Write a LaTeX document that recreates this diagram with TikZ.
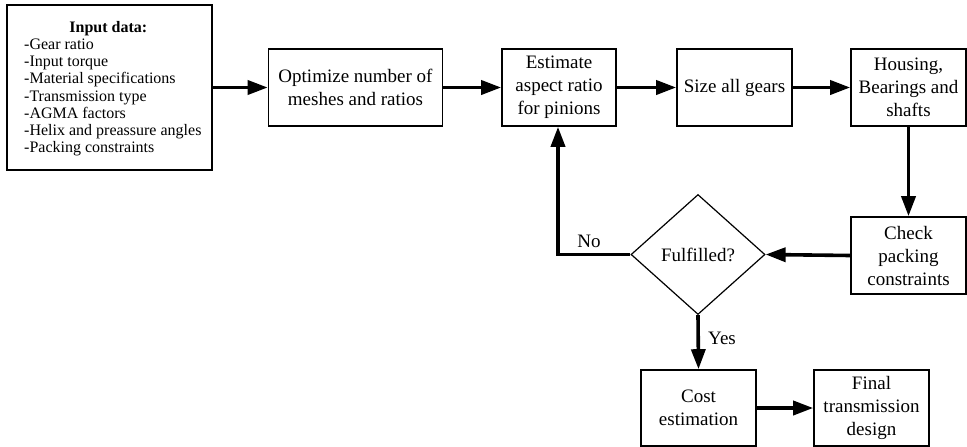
\documentclass[tikz,border=0pt]{standalone}
\usepackage{fontspec}
\setmainfont{Liberation Serif}
\usetikzlibrary{arrows.meta,shapes.geometric}
\begin{document}
\begin{tikzpicture}[x=1pt,y=-1pt,
  box/.style={draw,line width=1.6pt,rectangle,inner sep=0pt,minimum height=77pt,align=center,font=\fontsize{19}{23}\selectfont},
  flow/.style={line width=3.6pt,-{Triangle[length=20pt,width=14pt]}},
  lbl/.style={font=\fontsize{19}{23}\selectfont,inner sep=0pt}]
\useasboundingbox (0,0) rectangle (967,447);
\node[draw,line width=1.6pt,rectangle,inner sep=0pt,minimum width=205pt,minimum height=165pt] (input) at (109.5,87.5) {};
\node[inner sep=0pt,font=\fontsize{16}{17.2}\selectfont,anchor=north west] (inputtxt) at (24,20) {%
\begin{tabular}{@{}l@{}}
\multicolumn{1}{@{}c@{}}{\hspace*{-9pt}\bfseries Input data:}\\
-Gear ratio\\
-Input torque\\
-Material specifications\\
-Transmission type\\
-AGMA factors\\
-Helix and preassure angles\\
-Packing constraints
\end{tabular}};
\node[box,minimum width=174pt] (opt) at (355.5,87.5) {Optimize number of\\meshes and ratios};
\node[box,minimum width=114pt] (est) at (559,87.5) {Estimate\\aspect ratio\\for pinions};
\node[box,minimum width=115pt] (size) at (734.5,87.5) {Size all gears};
\node[box,minimum width=115pt] (house) at (908.5,87.5) {Housing,\\Bearings and\\shafts};
\node[box,minimum width=115pt] (check) at (908.5,255.5) {Check\\packing\\constraints};
\node[draw,line width=1.2pt,diamond,aspect=1.12,minimum width=134pt,minimum height=120pt,inner sep=0pt,font=\fontsize{19}{23}\selectfont] (ful) at (698,254.5) {Fulfilled?};
\node[box,minimum width=115pt,minimum height=76pt] (cost) at (698.5,408) {Cost\\estimation};
\node[box,minimum width=115pt,minimum height=76pt] (final) at (871.5,408) {Final\\transmission\\design};
\coordinate (corner) at (558,254.5);
\draw[flow] (input.east |- 0,87.5) -- (opt.west);
\draw[flow] (opt) -- (est);
\draw[flow] (est) -- (size);
\draw[flow] (size) -- (house);
\draw[flow] (house) -- (check);
\draw[flow] (check.west) -- (ful.east);
\draw[flow] (ful.west) -- (corner) -- (est.south -| corner);
\draw[flow] (ful.south) -- (cost.north);
\draw[flow] (cost) -- (final);
\node[lbl] (no) at (589,241) {No};
\node[lbl] (yes) at (722,338) {Yes};
\end{tikzpicture}
\end{document}
